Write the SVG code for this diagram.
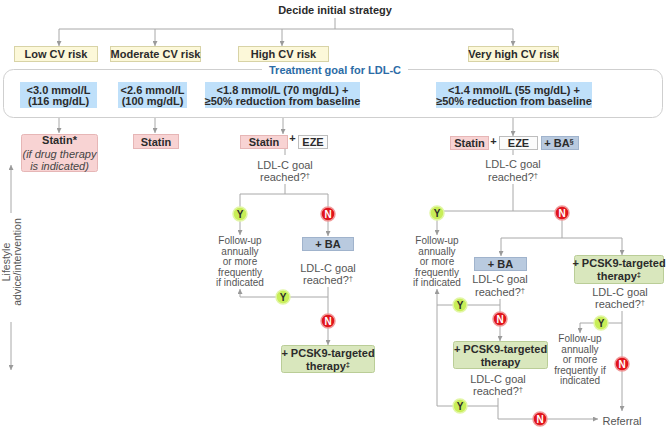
<svg xmlns="http://www.w3.org/2000/svg" width="669" height="429" viewBox="0 0 669 429">
<defs>
<marker id="ah" viewBox="0 0 6 6" refX="6" refY="3" markerWidth="5" markerHeight="5" markerUnits="userSpaceOnUse" orient="auto-start-reverse">
<path d="M0,0 L6,3 L0,6 z" fill="#9a9a9a"/>
</marker>
<style>
.risk{fill:#fcf8d9;stroke:#d8d3a6;stroke-width:1}
.goal{fill:#bfe0fa;stroke:none}
.statin{fill:#f8d3d3;stroke:#e6b6b6;stroke-width:1}
.eze{fill:#fbfbfb;stroke:#bdbdbd;stroke-width:1}
.ba{fill:#b9cadf;stroke:#a0b3cc;stroke-width:1}
.pcsk{fill:#d9e7bd;stroke:#bacd97;stroke-width:1}
.b{font-family:"Liberation Sans",Arial,sans-serif;font-weight:bold;font-size:11px;fill:#2b2b2b;text-anchor:middle}
.n{font-family:"Liberation Sans",Arial,sans-serif;font-size:11px;fill:#555;text-anchor:middle}
.f{font-family:"Liberation Sans",Arial,sans-serif;font-size:10px;fill:#555;text-anchor:middle}
.ln{stroke:#a8a8a8;stroke-width:1;fill:none}
.ar{stroke:#a8a8a8;stroke-width:1;fill:none;marker-end:url(#ah)}
.yc{fill:#c8ee58;stroke:#e2f6a6;stroke-width:1.5}
.nc{fill:#e1141c;stroke:#f09a9a;stroke-width:1.5}
.yt{font-family:"Liberation Sans",Arial,sans-serif;font-weight:bold;font-size:10px;fill:#2b2b2b;text-anchor:middle}
.nt{font-family:"Liberation Sans",Arial,sans-serif;font-weight:bold;font-size:10px;fill:#fff;text-anchor:middle}
.sup{font-size:7.5px}
</style>
</defs>
<rect width="669" height="429" fill="#fff"/>

<g id="connectors">
<path class="ln" d="M335,18 V29 M59,29 H513"/>
<path class="ar" d="M59,29 V46"/>
<path class="ar" d="M155,29 V46"/>
<path class="ar" d="M282,29 V46"/>
<path class="ar" d="M513,29 V46"/>
<path class="ar" d="M59,118 V133"/>
<path class="ar" d="M155,118 V133"/>
<path class="ar" d="M283,118 V134"/>
<path class="ar" d="M513,118 V136"/>
<!-- high branch -->
<path class="ln" d="M285,149 V155"/>
<path class="ln" d="M285,184 V194 M240,194 H328 M240,194 V207 M328,194 V207"/>
<path class="ar" d="M240,221 V235"/>
<path class="ar" d="M328,221 V236"/>
<path class="ln" d="M328,287 V314 M240,297 H328"/>
<path class="ar" d="M240,297 V289"/>
<path class="ar" d="M328,328 V345"/>
<!-- very high branch -->
<path class="ln" d="M513,150 V155"/>
<path class="ln" d="M513,184 V211 M437,211 H562"/>
<path class="ar" d="M437,220 V235"/>
<path class="ln" d="M562,220 V238 M501,238 H622"/>
<path class="ar" d="M501,238 V256"/>
<path class="ar" d="M622,238 V255"/>
<path class="ln" d="M500,299 V312 M437,305 H500"/>
<path class="ln" d="M437,305 V406 M437,406 H498 M498,398 V419 M498,419 H590"/>
<path class="ar" d="M437,305 V289"/>
<path class="ar" d="M590,419 H598"/>
<path class="ar" d="M500,326 V341"/>
<path class="ln" d="M622,311 V357 M580,323 H622"/>
<path class="ar" d="M580,323 V333"/>
<path class="ar" d="M622,371 V411"/>
<!-- lifestyle -->
<path class="ar" d="M11,213 V165"/>
<path class="ar" d="M11,322 V370"/>
</g>

<g id="decide"><text class="b" x="335" y="14">Decide initial strategy</text></g>

<g id="risk-low"><rect class="risk" x="14.5" y="46.5" width="83" height="15"/><text class="b" x="56" y="58">Low CV risk</text></g>
<g id="risk-moderate"><rect class="risk" x="110.5" y="46.5" width="90" height="15"/><text class="b" x="155.5" y="58">Moderate CV risk</text></g>
<g id="risk-high"><rect class="risk" x="238.5" y="46.5" width="90" height="15"/><text class="b" x="283.5" y="58">High CV risk</text></g>
<g id="risk-veryhigh"><rect class="risk" x="468.5" y="46.5" width="90" height="15"/><text class="b" x="513.5" y="58">Very high CV risk</text></g>

<g id="treatment-goal">
<rect x="3.5" y="69.5" width="659" height="48" rx="10" fill="none" stroke="#cfcfcf" stroke-width="1"/>
<rect x="262" y="64" width="146" height="12" fill="#fff"/>
<text class="b" x="335" y="74" style="fill:#2c6ca6">Treatment goal for LDL-C</text>
</g>

<g id="goal-low"><rect class="goal" x="20" y="82" width="77" height="26"/><text class="b" x="58.5" y="94">&lt;3.0 mmol/L</text><text class="b" x="58.5" y="105">(116 mg/dL)</text></g>
<g id="goal-moderate"><rect class="goal" x="118" y="82" width="69" height="26"/><text class="b" x="152.5" y="94">&lt;2.6 mmol/L</text><text class="b" x="152.5" y="105">(100 mg/dL)</text></g>
<g id="goal-high"><rect class="goal" x="205" y="82" width="155" height="26"/><text class="b" x="282.5" y="94">&lt;1.8 mmol/L (70 mg/dL) +</text><text class="b" x="282.5" y="105">≥50% reduction from baseline</text></g>
<g id="goal-veryhigh"><rect class="goal" x="436" y="82" width="156" height="26"/><text class="b" x="514" y="94">&lt;1.4 mmol/L (55 mg/dL) +</text><text class="b" x="514" y="105">≥50% reduction from baseline</text></g>

<g id="therapy-low"><rect class="statin" x="21.5" y="134.5" width="76" height="37" rx="2"/><text class="b" x="59.5" y="144">Statin*</text><text class="b" x="59.5" y="158" style="font-weight:normal;font-style:italic;fill:#444">(if drug therapy</text><text class="b" x="59.5" y="170" style="font-weight:normal;font-style:italic;fill:#444">is indicated)</text></g>
<g id="therapy-moderate"><rect class="statin" x="133.5" y="134.5" width="45" height="14"/><text class="b" x="156" y="145.5">Statin</text></g>

<g id="therapy-high"><rect class="statin" x="240.5" y="135.5" width="47" height="13"/><text class="b" x="264" y="146">Statin</text><text class="b" x="292.5" y="142">+</text><rect class="eze" x="298.5" y="135.5" width="29" height="13"/><text class="b" x="313" y="146">EZE</text></g>
<g id="q-high"><text class="n" x="285" y="169">LDL-C goal</text><text class="n" x="285" y="181">reached?<tspan class="sup" dy="-3">†</tspan></text></g>
<g id="y-high"><circle class="yc" cx="240" cy="214" r="7"/><text class="yt" x="240" y="217.5">Y</text></g>
<g id="n-high"><circle class="nc" cx="328" cy="214" r="7"/><text class="nt" x="328" y="217.5">N</text></g>
<g id="followup-high"><text class="f" x="240" y="244">Follow-up</text><text class="f" x="240" y="254.5">annually</text><text class="f" x="240" y="265">or more</text><text class="f" x="240" y="275.5">frequently</text><text class="f" x="240" y="286">if indicated</text></g>
<g id="ba-high"><rect class="ba" x="302.5" y="237.5" width="51" height="13"/><text class="b" x="328" y="248">+ BA</text></g>
<g id="q2-high"><text class="n" x="328" y="272">LDL-C goal</text><text class="n" x="328" y="284">reached?<tspan class="sup" dy="-3">†</tspan></text></g>
<g id="y2-high"><circle class="yc" cx="283" cy="297" r="7"/><text class="yt" x="283" y="300.5">Y</text></g>
<g id="n2-high"><circle class="nc" cx="328" cy="321" r="7"/><text class="nt" x="328" y="324.5">N</text></g>
<g id="pcsk9-high"><rect class="pcsk" x="281.5" y="345.5" width="93" height="27" rx="2"/><text class="b" x="328" y="357">+ PCSK9-targeted</text><text class="b" x="328" y="370">therapy<tspan class="sup" dy="-3">‡</tspan></text></g>

<g id="therapy-veryhigh"><rect class="statin" x="450.5" y="136.5" width="38" height="13"/><text class="b" x="469.5" y="147">Statin</text><text class="b" x="493.5" y="145">+</text><rect class="eze" x="499.5" y="136.5" width="38" height="13"/><text class="b" x="518.5" y="147">EZE</text><rect class="ba" x="541.5" y="136.5" width="37" height="13"/><text class="b" x="559" y="147">+ BA<tspan class="sup" dy="-3">§</tspan></text></g>
<g id="q-veryhigh"><text class="n" x="513" y="168">LDL-C goal</text><text class="n" x="513" y="181">reached?<tspan class="sup" dy="-3">†</tspan></text></g>
<g id="y-veryhigh"><circle class="yc" cx="437" cy="213" r="7"/><text class="yt" x="437" y="216.5">Y</text></g>
<g id="n-veryhigh"><circle class="nc" cx="562" cy="213" r="7"/><text class="nt" x="562" y="216.5">N</text></g>
<g id="followup-veryhigh"><text class="f" x="437" y="244">Follow-up</text><text class="f" x="437" y="254.5">annually</text><text class="f" x="437" y="265">or more</text><text class="f" x="437" y="275.5">frequently</text><text class="f" x="437" y="286">if indicated</text></g>
<g id="ba-veryhigh"><rect class="ba" x="474.5" y="257.5" width="52" height="13"/><text class="b" x="500.5" y="268">+ BA</text></g>
<g id="q2-veryhigh"><text class="n" x="500" y="283">LDL-C goal</text><text class="n" x="500" y="296">reached?<tspan class="sup" dy="-3">†</tspan></text></g>
<g id="y2-veryhigh"><circle class="yc" cx="460" cy="305" r="7"/><text class="yt" x="460" y="308.5">Y</text></g>
<g id="n2-veryhigh"><circle class="nc" cx="500" cy="319" r="7"/><text class="nt" x="500" y="322.5">N</text></g>
<g id="pcsk9-mid"><rect class="pcsk" x="453.5" y="341.5" width="94" height="27" rx="2"/><text class="b" x="500.5" y="353">+ PCSK9-targeted</text><text class="b" x="500.5" y="366">therapy</text></g>
<g id="q3-veryhigh"><text class="n" x="498" y="383">LDL-C goal</text><text class="n" x="498" y="395">reached?<tspan class="sup" dy="-3">†</tspan></text></g>
<g id="y3-veryhigh"><circle class="yc" cx="460" cy="406" r="7"/><text class="yt" x="460" y="409.5">Y</text></g>
<g id="n3-veryhigh"><circle class="nc" cx="540" cy="419" r="7"/><text class="nt" x="540" y="422.5">N</text></g>

<g id="pcsk9-right"><rect class="pcsk" x="574.5" y="255.5" width="89" height="28" rx="2"/><text class="b" x="619" y="267">+ PCSK9-targeted</text><text class="b" x="619" y="280">therapy<tspan class="sup" dy="-3">‡</tspan></text></g>
<g id="q-right"><text class="n" x="620" y="296">LDL-C goal</text><text class="n" x="620" y="308">reached?<tspan class="sup" dy="-3">†</tspan></text></g>
<g id="y-right"><circle class="yc" cx="601" cy="323" r="7"/><text class="yt" x="601" y="326.5">Y</text></g>
<g id="n-right"><circle class="nc" cx="622" cy="364" r="7"/><text class="nt" x="622" y="367.5">N</text></g>
<g id="followup-right"><text class="f" x="580" y="342">Follow-up</text><text class="f" x="580" y="352.5">annually</text><text class="f" x="580" y="363">or more</text><text class="f" x="580" y="373.5">frequently if</text><text class="f" x="580" y="384">indicated</text></g>
<g id="referral"><text class="n" x="622" y="425">Referral</text></g>

<g id="lifestyle">
<text class="n" transform="translate(10,262) rotate(-90)" style="font-size:10.5px">Lifestyle</text>
<text class="n" transform="translate(21,262) rotate(-90)" style="font-size:10.5px">advice/intervention</text>
</g>
</svg>
